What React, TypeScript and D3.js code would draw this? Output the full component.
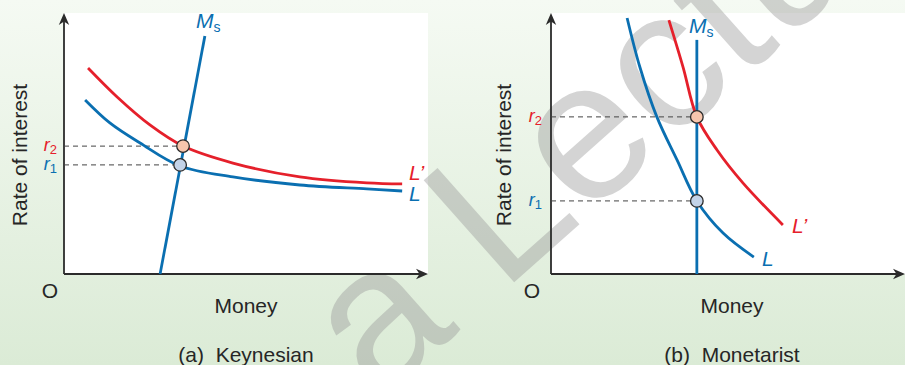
import React from "react";
import * as d3 from "d3";

// ---------- data (diagram units 0..100 on each axis) ----------
const keynesL: [number, number][] = [
  [5.8, 66.7], [12.6, 57.9], [20.9, 50.2], [31.9, 41.4], [46.4, 37.2], [64.8, 34.1], [83.2, 32.6], [92.9, 31.8],
];
const keynesL2: [number, number][] = [
  [6.6, 78.9], [14.6, 67.8], [23.6, 57.1], [32.7, 49.0], [46.4, 42.5], [64.8, 37.2], [83.2, 34.9], [92.9, 34.5],
];
const keynesMs: [number, number][] = [[26.4, 0], [38.7, 91.2]];
const keynesEq = [
  { name: "r2", x: 32.7, y: 49.0 },
  { name: "r1", x: 31.9, y: 41.8 },
];

const monetL: [number, number][] = [
  [21.5, 98.1], [25.1, 79.3], [29.9, 60.2], [35.6, 43.7], [41.2, 28.0], [48.6, 15.7], [57.3, 6.5],
];
const monetL2: [number, number][] = [
  [33.3, 97.3], [37.3, 79.3], [41.2, 60.2], [46.9, 47.5], [54.2, 34.9], [65.5, 18.8],
];
const monetMs: [number, number][] = [[41.2, 0], [41.2, 89.7]];
const monetEq = [
  { name: "r2", x: 41.2, y: 60.2 },
  { name: "r1", x: 41.2, y: 28.0 },
];

const panelTitles = ["(a)  Keynesian", "(b)  Monetarist"];
const xAxisLabel = "Money";
const yAxisLabel = "Rate of interest";
const watermarkWords = ["a", "Lecture"];

// ---------- style ----------
const BLUE = "#0a6fb1";
const RED = "#e5202b";
const AXIS = "#2b2b2b";
const TEXT = "#262626";
const FONT = "'Liberation Sans', Arial, Helvetica, sans-serif";

type Panel = {
  x0: number; x1: number; yTop: number; yBot: number;
  L: [number, number][]; L2: [number, number][]; Ms: [number, number][];
  eq: { name: string; x: number; y: number }[];
  title: string;
  yLabelX: number; oX: number; textCx: number;
  msLabel: [number, number];
  lLabel: [number, number]; l2Label: [number, number];
  rLabelX: number;
};

const panels: Panel[] = [
  {
    x0: 64, x1: 428, yTop: 13, yBot: 274,
    L: keynesL, L2: keynesL2, Ms: keynesMs, eq: keynesEq, title: panelTitles[0],
    yLabelX: 27, oX: 50, textCx: 246,
    msLabel: [196, 28], lLabel: [409, 201], l2Label: [409, 180], rLabelX: 57,
  },
  {
    x0: 551, x1: 905, yTop: 13, yBot: 274,
    L: monetL, L2: monetL2, Ms: monetMs, eq: monetEq, title: panelTitles[1],
    yLabelX: 511, oX: 532, textCx: 732,
    msLabel: [689, 33], lLabel: [762, 266], l2Label: [792, 233], rLabelX: 542,
  },
];

function Arrow({ x, y, angle }: { x: number; y: number; angle: number }) {
  return (
    <path
      d="M0,0 L-12,-5.2 L-8.5,0 L-12,5.2 Z"
      transform={`translate(${x},${y}) rotate(${angle})`}
      fill={AXIS}
    />
  );
}

function PanelView({ p }: { p: Panel }) {
  const x = d3.scaleLinear().domain([0, 100]).range([p.x0, p.x1]);
  const y = d3.scaleLinear().domain([0, 100]).range([p.yBot, p.yTop]);
  const curve = d3
    .line<[number, number]>()
    .x((d) => x(d[0]))
    .y((d) => y(d[1]))
    .curve(d3.curveCatmullRom.alpha(0.5));
  const straight = d3
    .line<[number, number]>()
    .x((d) => x(d[0]))
    .y((d) => y(d[1]));

  return (
    <g>
      {/* axes */}
      <line x1={x(0)} x2={x(0)} y1={y(0)} y2={y(100) + 3} stroke={AXIS} strokeWidth={1.8} />
      <Arrow x={x(0)} y={y(100)} angle={-90} />
      <line x1={x(0)} x2={x(100) - 3} y1={y(0)} y2={y(0)} stroke={AXIS} strokeWidth={1.8} />
      <Arrow x={x(100)} y={y(0)} angle={0} />

      {/* dashed guide lines */}
      {p.eq.map((e) => (
        <line
          key={"d" + e.name}
          x1={x(0)} x2={x(e.x)} y1={y(e.y)} y2={y(e.y)}
          stroke="#444" strokeWidth={1} strokeDasharray="5,4"
        />
      ))}

      {/* curves */}
      <path d={straight(p.Ms) || ""} fill="none" stroke={BLUE} strokeWidth={2.8} />
      <path d={curve(p.L) || ""} fill="none" stroke={BLUE} strokeWidth={2.8} />
      <path d={curve(p.L2) || ""} fill="none" stroke={RED} strokeWidth={2.8} />

      {/* equilibrium dots */}
      {p.eq.map((e) => (
        <circle
          key={"c" + e.name}
          cx={x(e.x)} cy={y(e.y)} r={6.3}
          fill={e.name === "r2" ? "#f7c6ad" : "#c3d3e8"}
          stroke="#2b2b2b" strokeWidth={1.3}
        />
      ))}

      {/* r labels */}
      {p.eq.map((e) => (
        <text
          key={"t" + e.name}
          x={p.rLabelX} y={y(e.y) + 5}
          textAnchor="end"
          fontFamily={FONT}
          fill={e.name === "r2" ? RED : BLUE}
          fontSize={18}
        >
          <tspan fontStyle="italic">r</tspan>
          <tspan fontSize={13} dy={3}>{e.name.slice(1)}</tspan>
        </text>
      ))}

      {/* curve labels */}
      <text x={p.msLabel[0]} y={p.msLabel[1]} fontFamily={FONT} fill={BLUE} fontSize={21} fontStyle="italic">
        M<tspan fontSize={14} fontStyle="normal" dy={4}>s</tspan>
      </text>
      <text x={p.l2Label[0]} y={p.l2Label[1]} fontFamily={FONT} fill={RED} fontSize={21} fontStyle="italic">
        L’
      </text>
      <text x={p.lLabel[0]} y={p.lLabel[1]} fontFamily={FONT} fill={BLUE} fontSize={21} fontStyle="italic">
        L
      </text>

      {/* axis labels */}
      <text
        transform={`translate(${p.yLabelX},155) rotate(-90)`}
        textAnchor="middle" fontFamily={FONT} fontSize={21} fill={TEXT}
      >
        {yAxisLabel}
      </text>
      <text x={p.oX} y={298} textAnchor="middle" fontFamily={FONT} fontSize={21} fill={TEXT}>O</text>
      <text x={p.textCx} y={313} textAnchor="middle" fontFamily={FONT} fontSize={21} fill={TEXT}>
        {xAxisLabel}
      </text>
      <text
        x={p.textCx} y={362} textAnchor="middle" fontFamily={FONT} fontSize={21} fill={TEXT}
        style={{ whiteSpace: "pre" }}
      >
        {p.title}
      </text>
    </g>
  );
}

export default function App() {
  const W = 905;
  const H = 365;
  return (
    <svg
      width={W}
      height={H}
      viewBox={`0 0 ${W} ${H}`}
      style={{ position: "fixed", left: 0, top: 0, display: "block" }}
    >
      <defs>
        <linearGradient id="bg" x1="0" y1="0" x2="0" y2="1">
          <stop offset="0" stopColor="#f5faf3" />
          <stop offset="1" stopColor="#dbebd6" />
        </linearGradient>
      </defs>
      <rect x={0} y={0} width={W} height={H} fill="url(#bg)" />
      {panels.map((p, i) => (
        <rect key={i} x={p.x0} y={p.yTop} width={p.x1 - p.x0} height={p.yBot - p.yTop} fill="#ffffff" />
      ))}

      {/* watermark */}
      <g transform="translate(502,293) rotate(-41.6)" fill="#9a9a9a" opacity={0.42} fontFamily={FONT} fontSize={198}>
        <text x={0} y={0}>{watermarkWords[1]}</text>
        <text x={-55} y={0} textAnchor="end">{watermarkWords[0]}</text>
      </g>

      {panels.map((p, i) => (
        <PanelView key={i} p={p} />
      ))}
    </svg>
  );
}
